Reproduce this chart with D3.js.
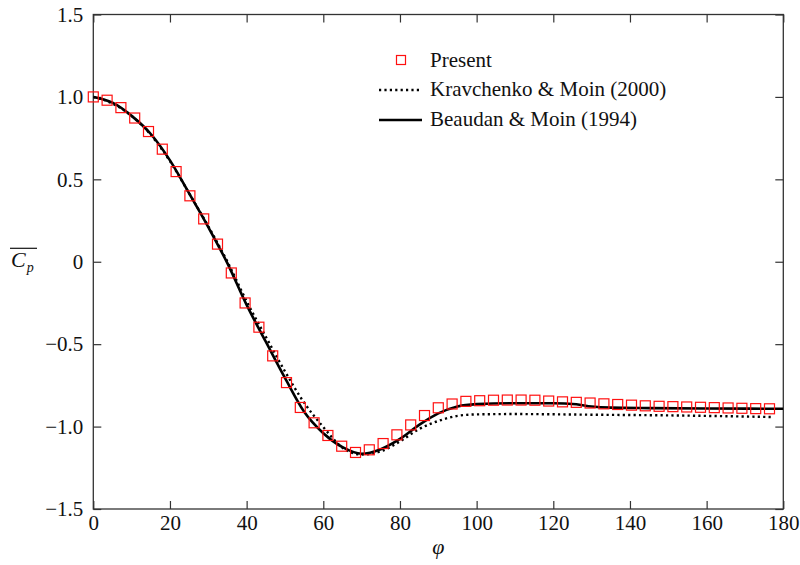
<!DOCTYPE html>
<html>
<head>
<meta charset="utf-8">
<script src="https://cdn.jsdelivr.net/npm/d3@7"></script>
<style>
  html, body { margin: 0; padding: 0; background: #fff; }
  svg { display: block; font-family: "Liberation Serif", "Times New Roman", serif; }
</style>
</head>
<body>
<svg id="chart" width="800" height="565"></svg>
<script>
// ---- data ----
const presentPhi = [0,3.6,7.2,10.8,14.4,18,21.6,25.2,28.8,32.4,36,39.6,43.2,46.8,50.4,54,57.6,61.2,64.8,68.4,72,75.6,79.2,82.8,86.4,90,93.6,97.2,100.8,104.4,108,111.6,115.2,118.8,122.4,126,129.6,133.2,136.8,140.4,144,147.6,151.2,154.8,158.4,162,165.6,169.2,172.8,176.4];
const presentCp = [1.0,0.98,0.935,0.872,0.79,0.683,0.547,0.40,0.26,0.107,-0.068,-0.25,-0.397,-0.571,-0.733,-0.884,-0.977,-1.054,-1.119,-1.157,-1.141,-1.103,-1.05,-0.99,-0.933,-0.886,-0.863,-0.847,-0.843,-0.84,-0.839,-0.839,-0.84,-0.845,-0.85,-0.853,-0.857,-0.862,-0.866,-0.87,-0.874,-0.877,-0.879,-0.881,-0.883,-0.885,-0.887,-0.889,-0.891,-0.892];

const kravPhi = [0,5,10,15,20,25,30,35,40,45,50,55,60,65,70,75,80,85,90,95,100,110,130,150,165,177];
const kravCp  = [1.0,0.96,0.885,0.77,0.61,0.415,0.215,0.0,-0.24,-0.455,-0.665,-0.855,-1.003,-1.128,-1.17,-1.15,-1.09,-1.015,-0.966,-0.935,-0.926,-0.924,-0.928,-0.932,-0.937,-0.942];

const beauPhi = [0,5,10,15,20,25,30,35,40,45,50,55,60,65,70,75,80,85,90,95,100,110,120,126,130,135,145,160,180];
const beauCp  = [1.0,0.965,0.885,0.775,0.615,0.415,0.21,-0.01,-0.262,-0.485,-0.705,-0.91,-1.04,-1.125,-1.165,-1.137,-1.075,-0.99,-0.92,-0.878,-0.864,-0.858,-0.858,-0.865,-0.878,-0.885,-0.888,-0.89,-0.892];

const xTicks = [0,20,40,60,80,100,120,140,160,180];
const yTicks = [-1.5,-1.0,-0.5,0,0.5,1.0,1.5];
const yTickLabels = ["\u22121.5","\u22121.0","\u22120.5","0","0.5","1.0","1.5"];
const legendLabels = ["Present","Kravchenko & Moin (2000)","Beaudan & Moin (1994)"];

// ---- layout ----
const svg = d3.select("#chart");
const L = 93.3, R = 783.3, T = 14.5, B = 509;
const x = d3.scaleLinear().domain([0,180]).range([L,R]);
const y = d3.scaleLinear().domain([-1.5,1.5]).range([B,T]);
const axisColor = "#333";
const tickLen = 8;
const serif = "'Liberation Serif','Times New Roman',serif";

// frame
svg.append("rect").attr("x",L).attr("y",T).attr("width",R-L).attr("height",B-T)
  .attr("fill","none").attr("stroke",axisColor).attr("stroke-width",1.3);

// axes with inward ticks
const fontSize = 21;
const gBottom = svg.append("g").attr("transform",`translate(0,${B})`)
  .call(d3.axisBottom(x).tickValues(xTicks).tickSizeInner(-tickLen).tickSizeOuter(0).tickPadding(6).tickFormat(d3.format("d")));
const gTop = svg.append("g").attr("transform",`translate(0,${T})`)
  .call(d3.axisTop(x).tickValues(xTicks).tickSizeInner(-tickLen).tickSizeOuter(0).tickFormat(""));
const gLeft = svg.append("g").attr("transform",`translate(${L},0)`)
  .call(d3.axisLeft(y).tickValues(yTicks).tickSizeInner(-tickLen).tickSizeOuter(0).tickPadding(10)
    .tickFormat((d,i)=>yTickLabels[i]));
const gRight = svg.append("g").attr("transform",`translate(${R},0)`)
  .call(d3.axisRight(y).tickValues(yTicks).tickSizeInner(-tickLen).tickSizeOuter(0).tickFormat(""));
[gBottom,gTop,gLeft,gRight].forEach(g=>{
  g.attr("font-family",serif);
  g.select(".domain").remove();
  g.selectAll(".tick line").attr("stroke",axisColor).attr("stroke-width",1.2);
  g.selectAll(".tick text").attr("fill","#111").attr("font-size",fontSize).attr("font-family",serif);
});

// axis labels
svg.append("text").attr("x",(L+R)/2).attr("y",554).attr("text-anchor","middle").attr("font-family",serif)
  .attr("font-size",22).attr("font-style","italic").attr("fill","#111").text("\u03c6");
const yl = svg.append("g");
yl.append("text").attr("x",11).attr("y",267).attr("font-size",22).attr("font-style","italic").attr("fill","#111")
  .attr("font-family",serif)
  .text("C").append("tspan").attr("font-size",14).attr("dy",5).attr("dx",1).text("p");
yl.append("line").attr("x1",10).attr("x2",37).attr("y1",248.3).attr("y2",248.3)
  .attr("stroke","#111").attr("stroke-width",1.2);

// lines
svg.append("clipPath").attr("id","clip").append("rect")
  .attr("x",L).attr("y",T).attr("width",R-L).attr("height",B-T);
const line = d3.line().x(d=>x(d[0])).y(d=>y(d[1])).curve(d3.curveMonotoneX);
const kravData = kravPhi.map((p,i)=>[p,kravCp[i]]);
const beauData = beauPhi.map((p,i)=>[p,beauCp[i]]);
const plot = svg.append("g").attr("clip-path","url(#clip)");
plot.append("path").datum(kravData).attr("d",line).attr("fill","none")
  .attr("stroke","#000").attr("stroke-width",2.4).attr("stroke-dasharray","2.2,3.2");
plot.append("path").datum(beauData).attr("d",line).attr("fill","none")
  .attr("stroke","#000").attr("stroke-width",2.6);

// squares
const sq = 10;
svg.append("g").selectAll("rect").data(presentPhi.map((p,i)=>[p,presentCp[i]])).join("rect")
  .attr("x",d=>x(d[0])-sq/2).attr("y",d=>y(d[1])-sq/2).attr("width",sq).attr("height",sq)
  .attr("fill","none").attr("stroke","#ff1010").attr("stroke-width",1.2);

// legend
const lg = svg.append("g").attr("font-family",serif);
lg.append("rect").attr("x",401-4.5).attr("y",60-4.5).attr("width",9).attr("height",9)
  .attr("fill","none").attr("stroke","#ff1010").attr("stroke-width",1.2);
lg.append("line").attr("x1",379).attr("x2",421).attr("y1",90).attr("y2",90)
  .attr("stroke","#000").attr("stroke-width",2.4).attr("stroke-dasharray","2.2,3.2");
lg.append("line").attr("x1",379).attr("x2",422).attr("y1",120).attr("y2",120)
  .attr("stroke","#000").attr("stroke-width",2.6);
const ly = [67,96,126];
legendLabels.forEach((t,i)=>{
  lg.append("text").attr("x",430).attr("y",ly[i]).attr("font-size",fontSize).attr("fill","#111").text(t);
});
</script>
</body>
</html>
